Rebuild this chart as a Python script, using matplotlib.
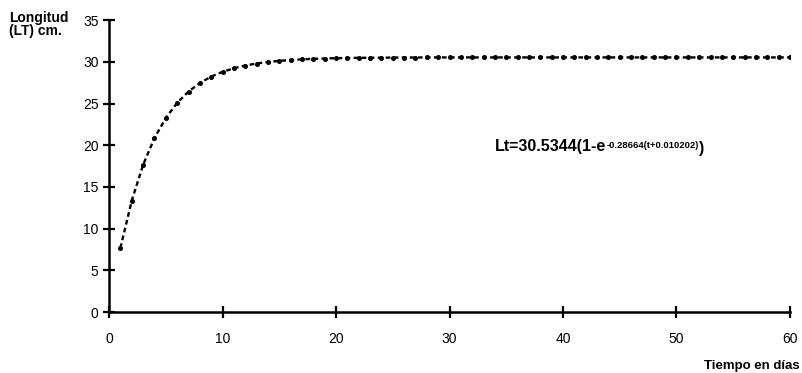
import matplotlib
matplotlib.use('Agg')
import matplotlib.pyplot as plt

plt.rcParams['font.family'] = ['Liberation Sans', 'DejaVu Sans']

# tiempo (días) y longitud (cm)
dias = list(range(1, 61))
longitud = [7.68, 13.37, 17.65, 20.86, 23.27, 25.08, 26.44, 27.46, 28.23, 28.80,
            29.23, 29.56, 29.80, 29.98, 30.12, 30.22, 30.30, 30.36, 30.40, 30.44,
            30.46, 30.48, 30.49, 30.50, 30.51, 30.52, 30.52, 30.53, 30.53, 30.53,
            30.53, 30.53, 30.53, 30.53, 30.53, 30.53, 30.53, 30.53, 30.53, 30.53,
            30.53, 30.53, 30.53, 30.53, 30.53, 30.53, 30.53, 30.53, 30.53, 30.53,
            30.53, 30.53, 30.53, 30.53, 30.53, 30.53, 30.53, 30.53, 30.53, 30.53]

fig = plt.figure(figsize=(8.02, 3.73), dpi=100)
ax = fig.add_axes([0.136, 0.1635, 0.849, 0.7825])

ax.plot(dias, longitud, color='black', lw=1.7, ls=(0, (2.0, 1.4)),
        marker='o', ms=2.6, mfc='black', mec='black')

ax.set_xlim(0, 60)
ax.set_ylim(0, 35)
ax.set_xticks(range(0, 61, 10))
ax.set_yticks(range(0, 36, 5))
for s in ['top', 'right']:
    ax.spines[s].set_visible(False)
ax.spines['left'].set_linewidth(1.8)
ax.spines['bottom'].set_linewidth(1.8)
ax.tick_params(axis='both', direction='inout', length=9, width=1.6, labelsize=10)
ax.tick_params(axis='x', pad=10)
ax.tick_params(axis='y', pad=3)

# ecuación
t1 = ax.text(34, 19.8, 'Lt=30.5344(1-e', fontsize=11.5, fontweight='bold', va='center')
t2 = ax.annotate('-0.28664(t+0.010202)', xy=(1, 0.6), xycoords=t1, fontsize=6.8,
                 fontweight='bold', va='center', ha='left')
ax.annotate(')', xy=(1, 0.5), xycoords=t2, xytext=(0, -2.5), textcoords='offset points',
            fontsize=11.5, fontweight='bold', va='center', ha='left')

fig.text(0.011, 0.97, 'Longitud\n(LT) cm.', fontsize=10, fontweight='bold',
         va='top', ha='left', linespacing=0.9)
fig.text(0.997, 0.003, 'Tiempo en días', fontsize=9.5, fontweight='bold',
         va='bottom', ha='right')

fig.savefig('out.png', dpi=100)
